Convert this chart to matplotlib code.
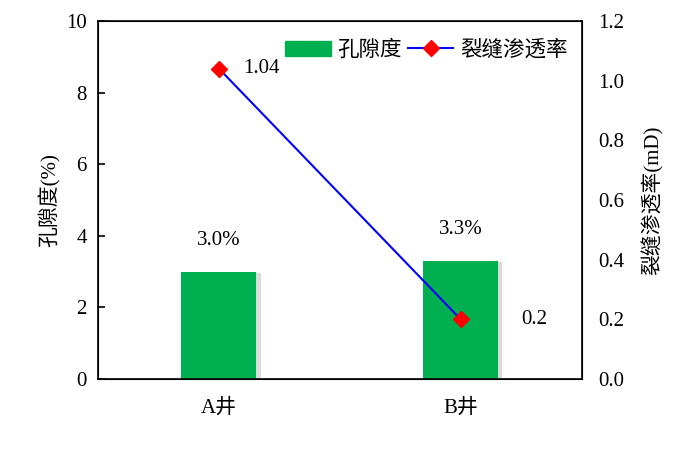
import matplotlib.pyplot as plt
import matplotlib.patheffects as pe
from matplotlib.patches import Patch

plt.rcParams['font.family'] = ['Liberation Serif', 'Noto Sans CJK SC']

# 数据
wells = ['A井', 'B井']
porosity = [3.0, 3.3]
permeability = [1.04, 0.2]
porosity_labels = ['3.0%', '3.3%']
perm_labels = ['1.04', '0.2']

fig = plt.figure(figsize=(7, 4.53), dpi=100)
ax = fig.add_axes([0.14, 0.163, 0.691, 0.791])
x = range(len(wells))

bars = ax.bar(x, porosity, width=0.31, color='#00B050', zorder=2,
              path_effects=[pe.SimplePatchShadow(offset=(3, -1), shadow_rgbFace='#999999', alpha=0.35), pe.Normal()])
ax.set_xlim(-0.5, 1.5)
ax.set_ylim(0, 10)
ax.set_yticks([0, 2, 4, 6, 8, 10])
ax.set_xticks(list(x))
ax.set_xticklabels(wells, fontsize=15)
ax.tick_params(axis='y', direction='in', labelsize=15, length=5, width=1.2, pad=8)
ax.tick_params(axis='x', length=0, pad=14)
ax.set_ylabel('孔隙度(%)', fontsize=15, labelpad=4)
for s in ax.spines.values():
    s.set_linewidth(1.2)
for i, t in enumerate(porosity_labels):
    ax.text(i, porosity[i] + 0.6, t, ha='center', va='bottom', fontsize=15)

ax2 = ax.twinx()
line, = ax2.plot(x, permeability, color='#0000FF', lw=1.5, marker='D', markersize=8,
                 markerfacecolor='#FF0000', markeredgecolor='#FF0000', zorder=3)
ax2.set_ylim(0, 1.2)
ax2.set_yticks([0, 0.2, 0.4, 0.6, 0.8, 1.0, 1.2])
ax2.set_yticklabels(['0.0', '0.2', '0.4', '0.6', '0.8', '1.0', '1.2'])
ax2.tick_params(axis='y', direction='in', labelsize=15, length=0, pad=12)
ax2.set_ylabel('裂缝渗透率(mD)', fontsize=15, labelpad=12)
ax2.text(0.1, permeability[0], perm_labels[0], ha='left', va='center', fontsize=15)
ax2.text(1.25, permeability[1], perm_labels[1], ha='left', va='center', fontsize=15)

ax.legend([Patch(color='#00B050'), line], ['孔隙度', '裂缝渗透率'], loc='upper right', ncol=2, frameon=False,
          fontsize=15.5, handlelength=2.1, columnspacing=0.3, handletextpad=0.3,
          bbox_to_anchor=(1.01, 1.0))

fig.savefig('out.png', dpi=100)
